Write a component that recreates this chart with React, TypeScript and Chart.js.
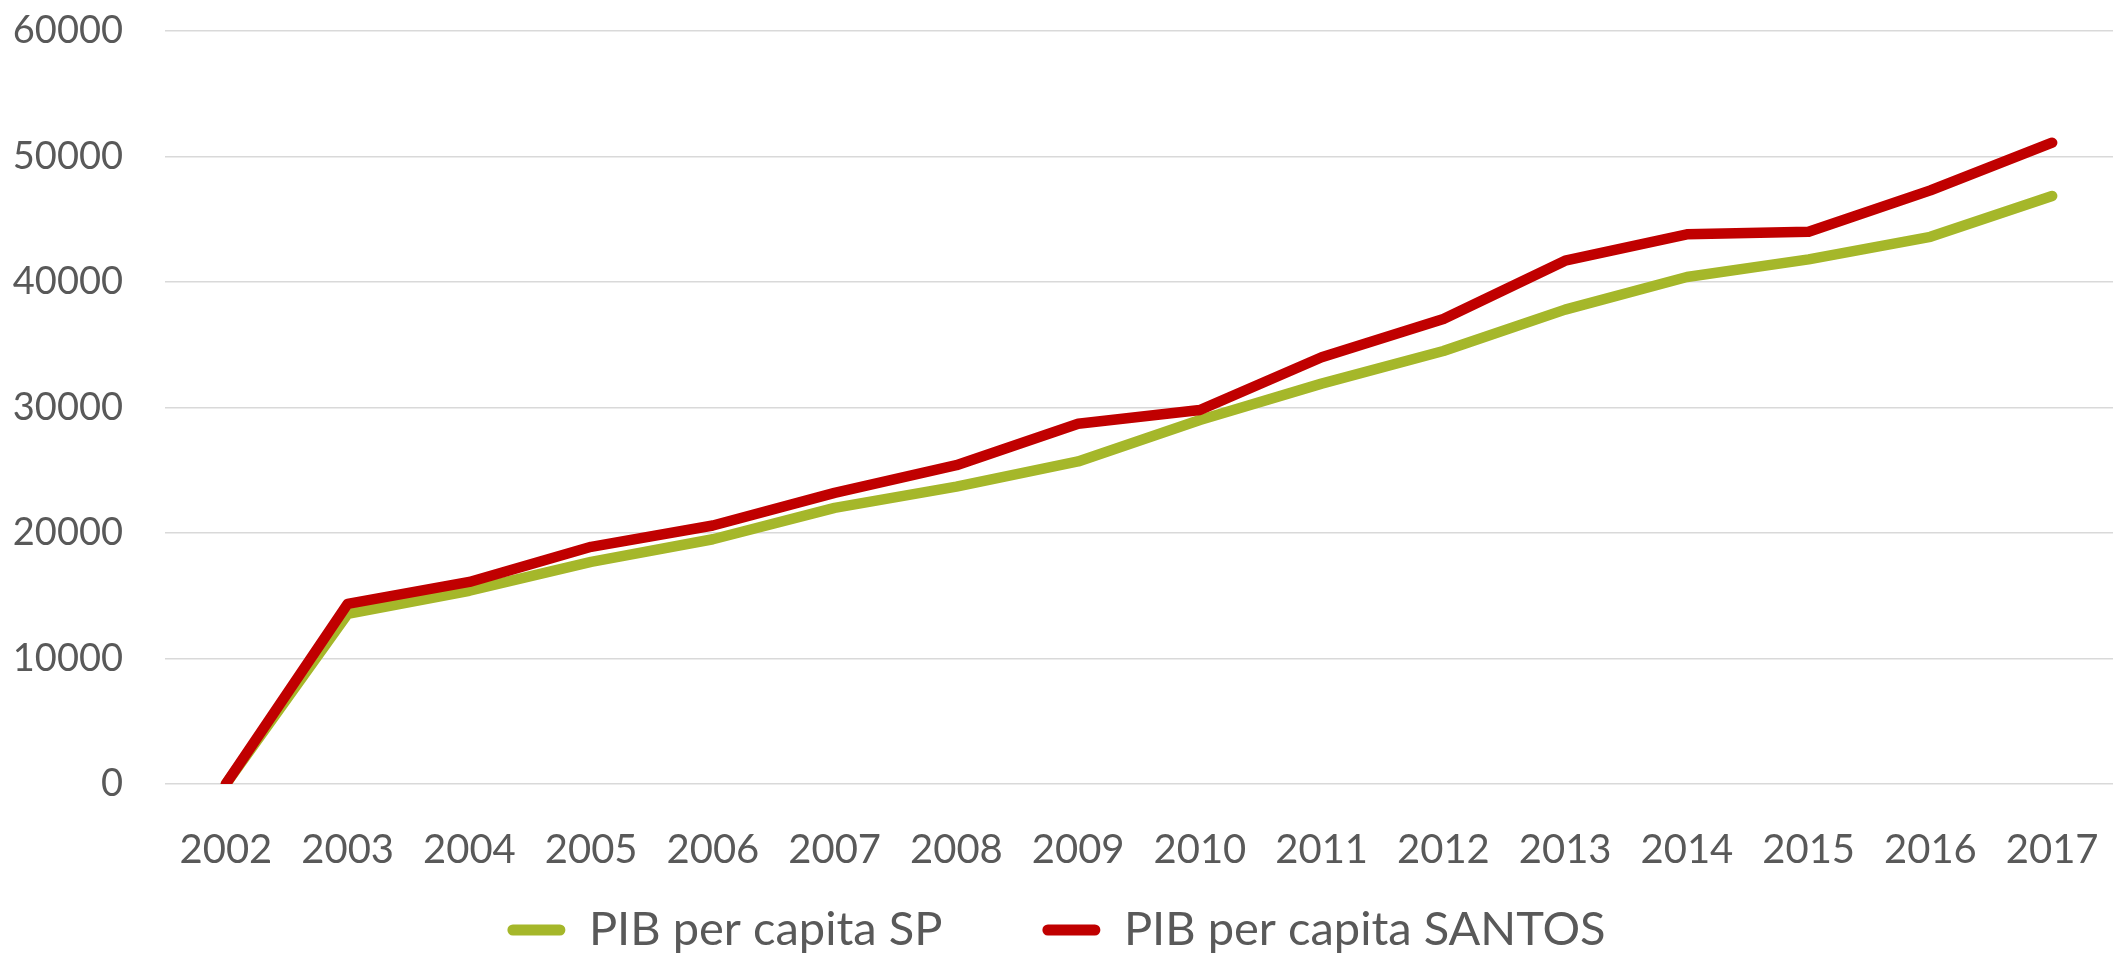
import React, { useEffect, useRef } from "react";
import { Chart, registerables } from "chart.js";

Chart.register(...registerables);

const years = ["2002", "2003", "2004", "2005", "2006", "2007", "2008", "2009", "2010", "2011", "2012", "2013", "2014", "2015", "2016", "2017"];
const pibSP = [0, 13550, 15400, 17700, 19500, 22000, 23700, 25700, 29000, 31900, 34500, 37800, 40400, 41800, 43600, 46850];
const pibSantos = [0, 14350, 16100, 18900, 20600, 23200, 25400, 28700, 29800, 34000, 37050, 41700, 43800, 44000, 47300, 51100];
const seriesNames = ["PIB per capita SP", "PIB per capita SANTOS"];
const seriesColors = ["#A5B72A", "#C00000"];
const yTicks = { min: 0, max: 60000, step: 10000 };

const TEXT = "#595959";
const FONT = "Lato";

export default function App() {
  const ref = useRef<HTMLCanvasElement | null>(null);

  useEffect(() => {
    if (!ref.current) return;
    const chart = new Chart(ref.current, {
      type: "line",
      data: {
        labels: years,
        datasets: [
          {
            label: seriesNames[0],
            data: pibSP,
            borderColor: seriesColors[0],
            backgroundColor: seriesColors[0],
            borderWidth: 10.5,
            pointRadius: 0,
            borderCapStyle: "round",
            borderJoinStyle: "round",
            tension: 0,
            order: 1,
          },
          {
            label: seriesNames[1],
            data: pibSantos,
            borderColor: seriesColors[1],
            backgroundColor: seriesColors[1],
            borderWidth: 10.5,
            pointRadius: 0,
            borderCapStyle: "round",
            borderJoinStyle: "round",
            tension: 0,
            order: 0,
          },
        ],
      },
      options: {
        responsive: false,
        animation: false,
        layout: { padding: { top: 31, left: 0, right: 0, bottom: -5.5 } },
        scales: {
          x: {
            type: "category",
            offset: true,
            grid: { display: false, drawTicks: false },
            border: { display: false },
            ticks: {
              color: TEXT,
              font: { family: FONT, size: 40 },
              padding: 42,
              maxRotation: 0,
              autoSkip: false,
            },
            afterFit: (s: any) => {
              s.height = 22.5;
              s.paddingLeft = 0;
              s.paddingRight = 0;
              s._computeLabelArea = () => undefined;
            },
          },
          y: {
            min: yTicks.min,
            max: yTicks.max,
            grid: { color: "#D9D9D9", lineWidth: 1.5, drawTicks: false },
            border: { display: false },
            ticks: {
              stepSize: yTicks.step,
              color: TEXT,
              font: { family: FONT, size: 38 },
              padding: 42,
              callback: (v: any) => String(v),
            },
            afterFit: (s: any) => {
              s.width = 165;
              s.paddingTop = 0;
              s.paddingBottom = 0;
            },
          },
        },
        plugins: {
          tooltip: { enabled: false },
          legend: {
            position: "bottom",
            labels: {
              color: TEXT,
              font: { family: FONT, size: 47 },
              boxWidth: 58,
              boxHeight: 11,
              padding: 100,
              useBorderRadius: true,
              borderRadius: 5.5,
              generateLabels: (c: any) => {
                const items = Chart.defaults.plugins.legend.labels.generateLabels(c);
                return items
                  .map((it: any) => ({
                    ...it,
                    lineWidth: 0,
                    strokeStyle: it.fillStyle,
                    borderRadius: 5.5,
                  }))
                  .sort((a: any, b: any) => a.datasetIndex - b.datasetIndex);
              },
            },
          },
        },
      },
    });
    return () => chart.destroy();
  }, []);

  return (
    <div style={{ position: "absolute", left: 0, top: 0, width: 2113, height: 958, background: "#fff" }}>
      <canvas ref={ref} width={2113} height={958} style={{ width: 2113, height: 958, display: "block" }} />
    </div>
  );
}
